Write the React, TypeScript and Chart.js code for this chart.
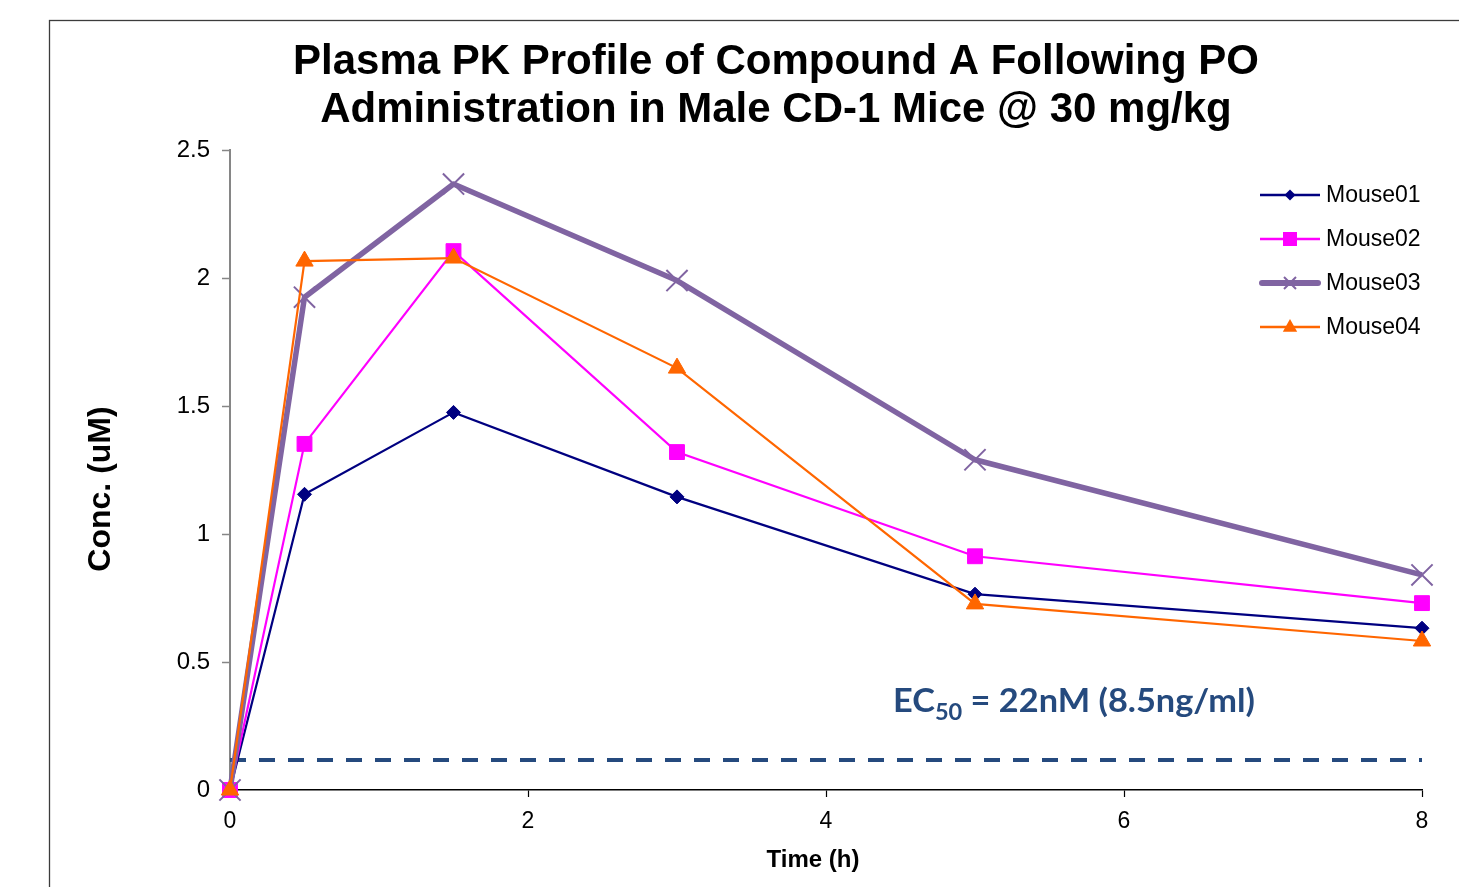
import React, { useEffect, useRef } from 'react';
import { Chart, registerables } from 'chart.js';

Chart.register(...registerables);

// ---- data ----
const timeH = [0, 0.5, 1.5, 3, 5, 8];
const mouse01 = [0, 1.155, 1.475, 1.145, 0.765, 0.632];
const mouse02 = [0, 1.352, 2.105, 1.32, 0.913, 0.73];
const mouse03 = [0, 1.925, 2.367, 1.99, 1.29, 0.84];
const mouse04 = [0, 2.066, 2.078, 1.648, 0.727, 0.582];
const ec50Time = [0, 8];
const ec50Conc = [0.117, 0.117];
const seriesNames = ['Mouse01', 'Mouse02', 'Mouse03', 'Mouse04'];
const xTickStep = 2;
const yTickStep = 0.5;
const xRange = [0, 8];
const yRange = [0, 2.5];
const titleLines = [
  'Plasma PK Profile of Compound A Following PO',
  'Administration in Male CD-1 Mice @ 30 mg/kg',
];
const xAxisTitle = 'Time (h)';
const yAxisTitle = 'Conc. (uM)';
const ec50Parts = ['EC', '50', ' = 22nM (8.5ng/ml)'];

// ---- styles ----
const colors = ['#000080', '#FF00FF', '#8064A2', '#FF6600'];
const ec50Color = '#254A7E';
const FONT = '"Liberation Sans", Arial, sans-serif';

const toPoints = (xs: number[], ys: number[]) => xs.map((x, i) => ({ x, y: ys[i] }));

function drawMarker(ctx: CanvasRenderingContext2D, kind: string, x: number, y: number, r: number, color: string) {
  ctx.save();
  ctx.fillStyle = color;
  ctx.strokeStyle = color;
  ctx.beginPath();
  if (kind === 'diamond') {
    ctx.moveTo(x, y - r);
    ctx.lineTo(x + r, y);
    ctx.lineTo(x, y + r);
    ctx.lineTo(x - r, y);
    ctx.closePath();
    ctx.fill();
  } else if (kind === 'square') {
    ctx.rect(x - r, y - r, 2 * r, 2 * r);
    ctx.fill();
  } else if (kind === 'cross') {
    ctx.lineWidth = 2;
    ctx.moveTo(x - r, y - r);
    ctx.lineTo(x + r, y + r);
    ctx.moveTo(x + r, y - r);
    ctx.lineTo(x - r, y + r);
    ctx.stroke();
  } else if (kind === 'triangle') {
    ctx.moveTo(x, y - r);
    ctx.lineTo(x + r * 0.9, y + r * 0.6);
    ctx.lineTo(x - r * 0.9, y + r * 0.6);
    ctx.closePath();
    ctx.fill();
  }
  ctx.restore();
}

const overlayPlugin = {
  id: 'overlay',
  beforeDraw(chart: any) {
    const ctx: CanvasRenderingContext2D = chart.ctx;
    ctx.save();
    ctx.fillStyle = '#ffffff';
    ctx.fillRect(0, 0, chart.width, chart.height);
    ctx.strokeStyle = '#3c3c3c';
    ctx.lineWidth = 1.3;
    ctx.strokeRect(49.5, 20.5, chart.width + 200, chart.height + 200);
    ctx.restore();
  },
  afterDraw(chart: any) {
    const ctx: CanvasRenderingContext2D = chart.ctx;
    const ys = chart.scales.y;
    ctx.save();

    // Title
    ctx.fillStyle = '#000';
    ctx.textAlign = 'center';
    ctx.textBaseline = 'alphabetic';
    ctx.font = `bold 42px ${FONT}`;
    ctx.fillText(titleLines[0], 776, 74);
    ctx.fillText(titleLines[1], 776, 122);

    // Axis titles
    ctx.font = `bold 24px ${FONT}`;
    ctx.textBaseline = 'middle';
    ctx.fillText(xAxisTitle, 813, 860);
    ctx.save();
    ctx.translate(101, 489);
    ctx.rotate(-Math.PI / 2);
    ctx.font = `bold 32px ${FONT}`;
    ctx.fillText(yAxisTitle, 0, 0);
    ctx.restore();

    // Legend
    const kinds = ['diamond', 'square', 'cross', 'triangle'];
    const markerR = [5.5, 7, 6, 8];
    ctx.textAlign = 'left';
    ctx.font = `23px ${FONT}`;
    seriesNames.forEach((name, i) => {
      const y = 195 + i * 44;
      ctx.save();
      ctx.strokeStyle = colors[i];
      ctx.lineWidth = i === 2 ? 6 : 2.5;
      ctx.lineCap = i === 2 ? 'round' : 'butt';
      ctx.beginPath();
      ctx.moveTo(i === 2 ? 1262 : 1260, y);
      ctx.lineTo(i === 2 ? 1318 : 1320, y);
      ctx.stroke();
      ctx.restore();
      drawMarker(ctx, kinds[i], 1290, y, markerR[i], colors[i]);
      ctx.fillStyle = '#000';
      ctx.textBaseline = 'middle';
      ctx.fillText(name, 1326, y + 1);
    });

    // EC50 label
    const bigFont = `bold 32px Lato, "Open Sans", sans-serif`;
    const smallFont = `bold 22px Lato, "Open Sans", sans-serif`;
    ctx.font = bigFont;
    const w1 = ctx.measureText(ec50Parts[0]).width;
    const w3 = ctx.measureText(ec50Parts[2]).width;
    ctx.font = smallFont;
    const w2 = ctx.measureText(ec50Parts[1]).width;
    const total = w1 + w2 + w3;
    const targetW = 362;
    const sx = targetW / total;
    const left = 893;
    const baseY = ys.getPixelForValue(ec50Conc[0]) - 48;
    ctx.save();
    ctx.translate(left, baseY);
    ctx.scale(sx, 1);
    ctx.fillStyle = ec50Color;
    ctx.textBaseline = 'alphabetic';
    ctx.textAlign = 'left';
    ctx.font = bigFont;
    ctx.fillText(ec50Parts[0], 0, 0);
    ctx.font = smallFont;
    ctx.fillText(ec50Parts[1], w1, 8);
    ctx.font = bigFont;
    ctx.fillText(ec50Parts[2], w1 + w2, 0);
    ctx.restore();

    ctx.restore();
  },
};

export default function App() {
  const ref = useRef<HTMLCanvasElement | null>(null);

  useEffect(() => {
    if (!ref.current) return;
    const chart = new Chart(ref.current, {
      type: 'line',
      data: {
        datasets: [
          {
            label: seriesNames[0],
            data: toPoints(timeH, mouse01),
            borderColor: colors[0],
            backgroundColor: colors[0],
            borderWidth: 2.2,
            pointStyle: 'rectRot',
            pointRadius: 7,
            pointBorderWidth: 1,
            pointBackgroundColor: colors[0],
            pointBorderColor: colors[0],
            order: 4,
            clip: false,
          },
          {
            label: seriesNames[1],
            data: toPoints(timeH, mouse02),
            borderColor: colors[1],
            backgroundColor: colors[1],
            borderWidth: 2.2,
            pointStyle: 'rect',
            pointRadius: 10.5,
            pointBorderWidth: 1,
            pointBackgroundColor: colors[1],
            pointBorderColor: colors[1],
            order: 3,
            clip: false,
          },
          {
            label: seriesNames[2],
            data: toPoints(timeH, mouse03),
            borderColor: colors[2],
            backgroundColor: colors[2],
            borderWidth: 5.5,
            borderJoinStyle: 'round',
            pointStyle: 'crossRot',
            pointRadius: 15,
            pointBorderWidth: 2,
            pointBackgroundColor: colors[2],
            pointBorderColor: colors[2],
            order: 2,
            clip: false,
          },
          {
            label: seriesNames[3],
            data: toPoints(timeH, mouse04),
            borderColor: colors[3],
            backgroundColor: colors[3],
            borderWidth: 2.2,
            pointStyle: 'triangle',
            pointRadius: 10,
            pointBorderWidth: 1,
            pointBackgroundColor: colors[3],
            pointBorderColor: colors[3],
            order: 1,
            clip: false,
          },
          {
            label: 'EC50',
            data: toPoints(ec50Time, ec50Conc),
            borderColor: ec50Color,
            borderWidth: 4,
            borderDash: [16, 13],
            pointRadius: 0,
            order: 5,
            clip: false,
          },
        ],
      },
      options: {
        responsive: false,
        animation: false,
        events: [],
        layout: { padding: { top: 150, right: 37, left: 0, bottom: 0 } },
        plugins: {
          legend: { display: false },
          title: { display: false },
          tooltip: { enabled: false },
        },
        scales: {
          x: {
            type: 'linear',
            min: xRange[0],
            max: xRange[1],
            ticks: {
              stepSize: xTickStep,
              font: { family: FONT, size: 23 },
              color: '#000',
              padding: 11,
              maxRotation: 0,
            },
            grid: {
              drawOnChartArea: false,
              drawTicks: true,
              tickLength: 7,
              tickColor: '#000',
              tickWidth: 1.2,
            },
            border: { display: true, color: '#000', width: 1.5 },
            afterFit: (s: any) => {
              s.height = 97;
            },
          },
          y: {
            type: 'linear',
            min: yRange[0],
            max: yRange[1],
            ticks: {
              stepSize: yTickStep,
              font: { family: FONT, size: 24 },
              color: '#000',
              padding: 12,
              callback: (v: any) => String(Number(v)),
            },
            grid: {
              drawOnChartArea: false,
              drawTicks: true,
              tickLength: 8,
              tickColor: '#868686',
              tickWidth: 1.5,
            },
            border: { display: true, color: '#868686', width: 2 },
            afterFit: (s: any) => {
              s.width = 230;
            },
          },
        },
      },
      plugins: [overlayPlugin],
    });
    return () => chart.destroy();
  }, []);

  return (
    <div style={{ position: 'fixed', left: 0, top: 0, width: 1459, height: 887, background: '#fff' }}>
      <canvas ref={ref} width={1459} height={887} style={{ display: 'block' }} />
    </div>
  );
}
